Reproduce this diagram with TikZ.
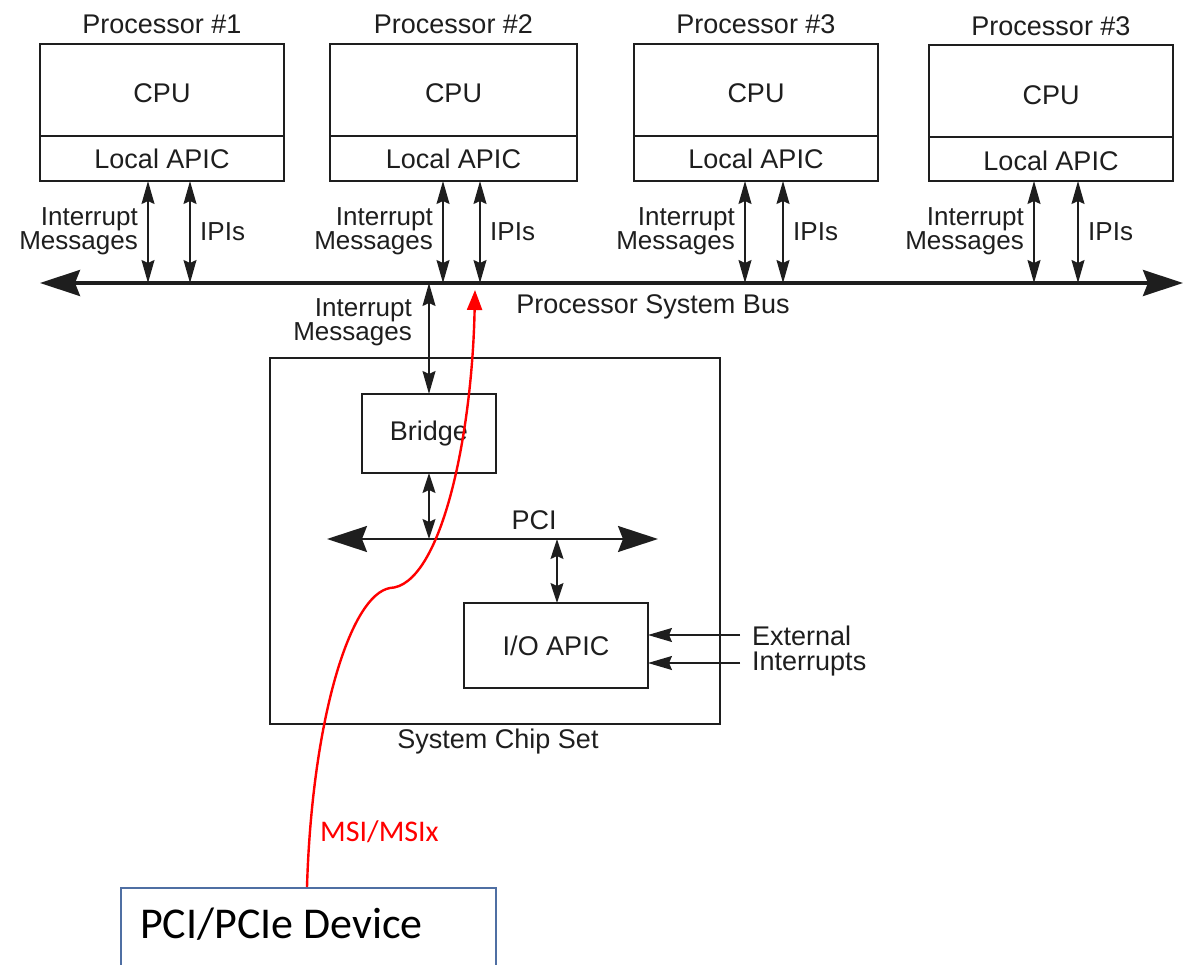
\documentclass[tikz,border=0pt]{standalone}
\usepackage{fontspec}
\setmainfont{Liberation Sans}
\newfontfamily\calib{Carlito}
\usetikzlibrary{arrows.meta,calc}
\definecolor{ink}{HTML}{1E1E1E}
\definecolor{devblue}{HTML}{4F6FA3}
\definecolor{msired}{HTML}{FF0000}
\begin{document}
\begin{tikzpicture}[x=1pt,y=-1pt,
  box/.style={draw=ink, line width=1.4pt, inner sep=0pt, outer sep=0pt, anchor=north west},
  txt/.style={font=\fontsize{27}{25}\selectfont, text=ink, inner sep=0pt},
  sm/.style={font=\fontsize{26}{24}\selectfont, text=ink, inner sep=0pt},
  dbl/.style={draw=ink, line width=1.4pt, {Stealth[length=23pt,width=13pt,inset=3pt]}-{Stealth[length=23pt,width=13pt,inset=3pt]}},
  sdbl/.style={draw=ink, line width=1.4pt, {Stealth[length=20pt,width=13pt,inset=3pt]}-{Stealth[length=20pt,width=13pt,inset=3pt]}},
  sgl/.style={draw=ink, line width=1.4pt, -{Stealth[length=24pt,width=14pt,inset=3pt]}},
  bigarr/.style={draw=ink, {Stealth[length=40pt,width=26pt,inset=5pt]}-{Stealth[length=40pt,width=26pt,inset=5pt]}},
]
\useasboundingbox[fill=white] (0,0) rectangle (1184,965);

% bus
\coordinate (busL) at (40,283);
\coordinate (busR) at (1183,283);
\draw[bigarr, line width=3.5pt] (busL) -- (busR);
\node[txt] (busLbl) at (653,307) {Processor System Bus};

% processors
\foreach \i/\xl/\xr/\ax/\bx/\dy/\t in {1/40/284/148/190/0/1, 2/330/577/443/480/0/2, 3/634/878/745/783/0/3, 4/929/1173/1034/1078/1/3}{
  \pgfmathsetmacro\w{\xr-\xl}
  \pgfmathsetmacro\cx{(\xr+\xl)/2}
  \node[box, minimum width=\w pt, minimum height={(92)*1pt}] (cpu\i) at (\xl,44+\dy) {};
  \node[box, minimum width=\w pt, minimum height={(45-\dy)*1pt}] (apic\i) at (cpu\i.south west) {};
  \node[txt] (title\i) at (\cx,24+2*\dy) {Processor \#\t};
  \node[txt] (cpuT\i) at (\cx,93+2*\dy) {CPU};
  \node[txt] (apicT\i) at (\cx,159+2*\dy) {Local APIC};
  \coordinate (ba\i) at (\ax,283);
  \coordinate (bb\i) at (\bx,283);
  \draw[dbl] (ba\i |- apic\i.south) -- (ba\i);
  \draw[dbl] (bb\i |- apic\i.south) -- (bb\i);
  \node[sm, anchor=east, align=right] (im\i) at (\ax-10,231) {Interrupt\\Messages};
  \node[sm, anchor=west] (ipi\i) at (\bx+10,232) {IPIs};
}

% chip set
\node[box, minimum width=450pt, minimum height=366pt] (chip) at (270,358) {};
\node[txt] (chipLbl) at (498,742) {System Chip Set};
\node[box, minimum width=134pt, minimum height=79pt] (bridge) at (362,394) {};
\node[txt] (bridgeT) at (bridge.center) {Bridge};
\node[box, minimum width=184pt, minimum height=85pt] (io) at (464,603) {};
\node[txt] (ioT) at (io.center) {I/O APIC};

% bus to bridge
\coordinate (bbr) at (bridge.north |- busL);
\draw[dbl] (bbr) -- (bridge.north);
\node[sm, anchor=east, align=right] (imB) at (412,322) {Interrupt\\Messages};

% PCI
\coordinate (pciL) at (327,539);
\coordinate (pciR) at (658,539);
\draw[bigarr, line width=2pt] (pciL) -- (pciR);
\node[txt] (pciT) at (534,520) {PCI};
\draw[sdbl] (bridge.south) -- (bridge.south |- pciL);
\coordinate (pio) at (557,539);
\draw[sdbl] (pio) -- (pio |- io.north);

% external interrupts
\coordinate (ext1) at (740,635);
\coordinate (ext2) at (740,663);
\draw[sgl] (ext1) -- (ext1 -| io.east);
\draw[sgl] (ext2) -- (ext2 -| io.east);
\node[txt, anchor=west, align=left] (extT) at (752,651) {External\\Interrupts};

% device
\node[draw=devblue, line width=1.6pt, anchor=north west, minimum width=375pt, minimum height=130pt, inner sep=0pt] (dev) at (120,887) {};
\node[font=\calib\fontsize{44}{44}\selectfont, anchor=west, inner sep=0pt] (devT) at (140,924) {PCI/PCIe Device};

% MSI path
\coordinate (msiS) at (307,887);
\coordinate (msiE) at (475,290);
\draw[msired, line width=2.4pt, -{Triangle[length=20pt,width=15pt]}]
  (msiS) .. controls (312,720) and (350,595) .. (390,588)
         .. controls (440,586) and (472,440) .. (msiE);
\node[font=\calib\fontsize{30}{30}\selectfont, text=msired, anchor=west, inner sep=0pt] (msiT) at (320,832) {MSI/MSIx};
\end{tikzpicture}
\end{document}
